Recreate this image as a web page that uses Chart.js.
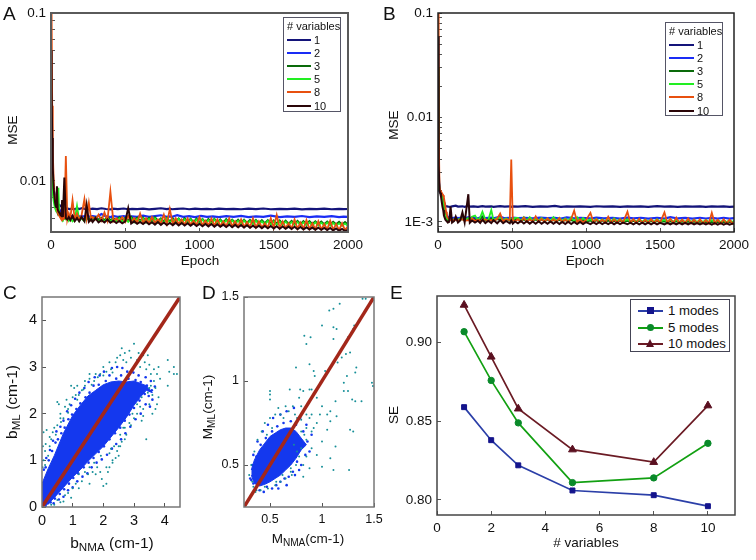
<!DOCTYPE html>
<html>
<head>
<meta charset="utf-8">
<title>MSE / SE panels</title>
<script src="https://cdn.jsdelivr.net/npm/chart.js@4/dist/chart.umd.js"></script>
<style>
  html, body { margin:0; padding:0; background:#fff; }
  #fig { position:relative; width:756px; height:560px; overflow:hidden; font-family:"Liberation Sans", Arial, sans-serif; color:#111; filter:blur(.35px); }
  #fig canvas { position:absolute; }
  .txt { position:absolute; white-space:nowrap; transform:translate(-50%,-50%); }
  .rot { transform:translate(-50%,-50%) rotate(-90deg); }
  .txt sub { font-size:.75em; vertical-align:-.3em; line-height:0; }
  .letter { position:absolute; font-size:19px; line-height:19px; }
  .lg { position:absolute; background:#fff; box-sizing:border-box; border:1.5px solid #556; }
  .lg span, .lg i { position:absolute; display:block; font-style:normal; white-space:nowrap; }
</style>
</head>
<body>
<div id="fig"></div>
<script>
/* panels A, B: training curves, values x 1e-5 (A) and x 1e-6 (B) */
const VARIABLES = ['1', '2', '3', '5', '8', '10'];
const VAR_COLORS = ['#14147a', '#1a2cf5', '#0a6a0a', '#22ee22', '#e8500f', '#2a0508'];
const VAR_WIDTHS = [2.2, 2.2, 1.8, 1.8, 1.8, 2];

const EPOCHS_A = [
  0,4,8,12,18,25,35,40,48,55,
  65,75,90,100,108,125,145,160,175,190,
  210,225,240,255,280,310,340,370,405,415,
  450,490,520,545,580,620,660,700,740,780,
  800,815,850,890,930,970,1010,1050,1090,1130,
  1180,1230,1280,1330,1380,1430,1480,1540,1590,1640,
  1690,1740,1790,1840,1890,1940,1970,2000];
const A_VAR1 = [
  3000,1400,1100,950,880,820,780,750,730,720,
  710,700,690,683,686,680,684,679,688,680,
  690,682,686,679,684,680,688,681,678,684,
  680,686,679,683,680,685,678,683,688,680,
  684,679,682,686,679,684,680,683,679,685,
  680,682,679,684,680,686,679,682,680,684,
  678,683,680,685,679,682,680,681];
const A_VAR2 = [
  3500,1500,1150,980,900,830,770,730,700,680,
  660,650,640,632,625,620,618,615,622,614,
  620,612,628,614,618,612,635,615,610,620,
  612,618,610,616,612,622,612,618,625,611,
  616,612,626,612,617,610,620,612,616,610,
  618,612,620,610,616,612,622,610,616,612,
  619,610,615,612,618,610,614,612];

const EPOCHS_A_FINE = [
  0,4,8,12,18,25,30,35,40,45,
  50,55,60,65,70,75,80,90,100,110,
  120,130,145,160,175,190,205,225,240,255,
  270,280,300,320,340,360,380,400,420,440,
  460,480,500,520,540,560,580,600,620,640,
  660,680,700,720,740,760,780,800,820,840,
  860,880,900,920,940,960,980,1000,1020,1040,
  1060,1080,1100,1120,1140,1160,1180,1200,1220,1240,
  1260,1280,1300,1320,1340,1360,1380,1400,1420,1440,
  1460,1480,1500,1520,1540,1560,1580,1600,1620,1640,
  1660,1680,1700,1720,1740,1760,1780,1800,1820,1840,
  1860,1880,1900,1920,1940,1960,1980,2000];
const A_VAR3 = [
  3800,1600,1100,900,800,740,700,680,660,650,
  640,630,625,620,615,610,605,600,610,595,
  605,590,600,585,610,590,610,585,600,590,
  610,590,610,590,605,585,612,585,600,585,
  610,582,605,582,612,580,605,580,608,578,
  605,578,610,578,600,575,605,575,600,575,
  600,572,600,572,598,570,598,570,595,570,
  595,568,596,568,592,566,594,566,590,565,
  590,564,590,564,588,562,588,562,585,562,
  586,560,584,560,583,558,582,558,580,558,
  580,556,578,556,578,555,576,555,575,554,
  575,554,573,553,572,552,570,552];
const A_VAR5 = [
  4000,1500,1000,850,760,700,680,660,720,690,
  910,640,625,610,600,590,585,600,590,610,
  580,600,575,590,710,580,600,575,640,580,
  590,575,600,575,595,575,600,572,595,575,
  600,572,595,570,600,568,595,570,600,566,
  595,566,600,565,592,566,600,565,590,564,
  595,562,590,562,590,560,588,560,590,558,
  585,558,590,556,583,556,585,555,582,555,
  580,553,582,552,578,552,580,550,575,550,
  578,549,575,548,573,548,572,547,570,546,
  570,545,568,545,566,544,568,544,565,543,
  566,542,562,542,560,541,558,540];
const A_VAR8 = [
  9000,10000,2800,1500,1000,820,760,720,680,650,
  630,620,610,600,590,680,590,600,1410,590,
  640,600,770,590,640,590,620,780,600,740,
  590,610,590,630,580,650,580,863,575,600,
  575,610,570,620,570,600,565,640,565,600,
  560,610,565,590,560,630,555,680,555,600,
  555,590,550,600,550,580,548,610,545,580,
  545,600,542,590,540,575,538,600,538,575,
  535,590,533,570,532,600,530,575,530,560,
  528,600,528,628,525,575,525,560,522,590,
  520,565,520,585,518,560,516,575,515,555,
  515,580,512,555,510,560,510,540];
const A_VAR10 = [
  6000,3500,1800,1200,900,780,720,700,930,680,
  660,650,640,625,620,770,610,1050,600,590,
  610,585,620,578,600,575,610,575,720,572,
  590,570,600,568,585,566,590,564,580,562,
  578,560,575,690,558,575,556,570,554,572,
  552,568,550,570,548,566,547,562,546,565,
  544,562,543,560,542,558,540,556,538,555,
  537,554,535,552,534,550,532,550,531,548,
  530,546,528,545,527,542,526,542,524,540,
  523,540,522,538,520,536,519,535,518,534,
  516,532,515,530,514,528,513,527,512,526,
  510,525,508,522,506,518,504,512];

const EPOCHS_B = [
  0,3,6,10,15,20,30,40,50,60,
  70,85,95,120,135,165,180,205,215,240,
  270,300,320,360,375,420,450,485,495,505,
  540,590,640,690,740,790,830,870,920,960,
  1030,1070,1120,1180,1230,1280,1320,1370,1420,1480,
  1530,1570,1620,1670,1720,1770,1810,1850,1890,1930,
  1970,2000];
const B_VAR1 = [
  20000,6000,2600,1950,1900,1850,1750,1550,1420,1405,
  1400,1395,1410,1430,1400,1410,1395,1420,1400,1410,
  1395,1415,1400,1405,1395,1415,1400,1410,1395,1405,
  1400,1415,1395,1405,1400,1420,1395,1405,1400,1410,
  1395,1412,1400,1405,1395,1410,1400,1405,1395,1415,
  1400,1405,1395,1410,1400,1405,1395,1410,1400,1405,
  1395,1400];
const B_VAR2 = [
  25000,7000,2700,2000,1950,1900,1800,1500,1250,1150,
  1100,1090,1085,1100,1085,1100,1080,1110,1085,1100,
  1080,1120,1085,1100,1080,1120,1085,1095,1080,1100,
  1085,1095,1080,1100,1085,1090,1078,1105,1082,1095,
  1078,1100,1082,1090,1076,1100,1080,1095,1076,1090,
  1074,1110,1078,1090,1075,1095,1078,1090,1074,1095,
  1075,1085];

const EPOCHS_B_FINE = [
  0,3,6,10,15,20,30,35,40,45,
  50,55,60,65,70,75,85,95,110,120,
  135,150,165,180,205,215,230,250,270,285,
  300,320,340,360,375,400,420,440,460,485,
  495,505,520,540,560,580,600,620,640,660,
  680,700,720,740,760,780,800,820,840,860,
  880,900,920,940,960,980,1000,1030,1050,1070,
  1090,1110,1130,1150,1170,1190,1210,1230,1250,1280,
  1300,1320,1340,1360,1380,1400,1420,1440,1460,1480,
  1500,1530,1550,1570,1590,1610,1630,1650,1670,1690,
  1710,1730,1750,1770,1790,1810,1830,1850,1870,1890,
  1910,1930,1950,1970,1990,2000];
const B_VAR3 = [
  30000,7500,2800,2000,1950,1880,1700,1500,1350,1220,
  1120,1080,1060,1050,1040,1040,1040,1035,1060,1070,
  1040,1060,1060,1035,1080,1040,1090,1050,1035,1060,
  1120,1035,1060,1070,1030,1060,1060,1030,1060,1030,
  1050,1030,1060,1060,1028,1050,1025,1060,1025,1050,
  1022,1050,1020,1050,1018,1040,1018,1045,1015,1040,
  1012,1040,1012,1035,1010,1040,1008,1030,1005,1035,
  1005,1030,1002,1025,1000,1020,1000,1025,998,1020,
  998,1020,996,1020,996,1015,995,1015,994,1015,
  994,1010,992,1010,992,1010,990,1008,990,1008,
  990,1005,988,1005,988,1000,986,1000,986,1000,
  985,1000,985,998,985,995];
const B_VAR5 = [
  30000,8000,2800,2000,1950,1850,1650,1500,1300,1200,
  1120,1090,1070,1060,1050,1045,1045,1040,1060,1060,
  1045,1080,1080,1040,1090,1040,1120,1150,1045,1100,
  1250,1050,1045,1300,1040,1090,1090,1040,1080,1035,
  1070,1035,1090,1090,1030,1110,1030,1110,1030,1070,
  1030,1090,1025,1080,1025,1110,1022,1090,1025,1080,
  1022,1110,1020,1110,1020,1090,1020,1060,1018,1070,
  1015,1060,1015,1090,1012,1080,1012,1060,1010,1060,
  1008,1050,1008,1060,1006,1050,1006,1050,1005,1060,
  1005,1050,1003,1060,1002,1050,1002,1045,1000,1050,
  1000,1050,1000,1045,1000,1045,998,1040,998,1040,
  996,1040,995,1035,995,1030];
const B_VAR8 = [
  85000,100000,8000,2200,2000,1950,1850,1800,1700,1550,
  1400,1250,1150,1100,1080,1060,1040,1020,1060,1040,
  1030,1050,1060,1025,1040,1020,1080,1020,1050,1020,
  1030,1060,1015,1040,1015,1070,1200,1010,1060,1040,
  3950,1040,1010,1060,1005,1100,1005,1060,1005,1130,
  1005,1070,1000,1080,1000,1060,1000,1090,995,1060,
  995,1070,1280,995,1060,990,1040,1220,990,1060,
  990,1050,988,1120,985,1060,985,1060,985,1250,
  983,1060,980,1070,980,1050,980,1060,978,1050,
  978,1230,975,1070,975,1100,975,1050,972,1080,
  972,1050,970,1060,970,1040,968,1220,968,1050,
  965,1060,965,1050,965,1000];
const B_VAR10 = [
  60000,12000,3500,2000,1900,1750,1400,1300,1150,1100,
  1050,1030,1010,1005,990,1000,1400,985,1020,1120,
  985,1030,1230,990,1840,980,1030,985,1025,975,
  1050,975,1025,975,1040,970,1040,970,1020,968,
  1030,965,1010,968,1020,965,1015,962,1010,960,
  1015,960,1005,958,1010,958,1005,956,1000,955,
  1005,955,1000,954,1000,953,995,953,995,952,
  995,952,990,951,990,950,990,950,985,949,
  985,949,985,948,985,948,985,947,985,947,
  980,947,980,946,980,946,980,945,978,945,
  978,945,975,944,975,944,975,943,975,943,
  972,942,970,942,965,950];

const A_YTICKS = [0.1, 0.09, 0.08, 0.07, 0.06, 0.05, 0.04, 0.03, 0.02, 0.01, 0.009, 0.008, 0.007, 0.006, 0.005];
const B_YTICKS = [0.1, 0.09, 0.08, 0.07, 0.06, 0.05, 0.04, 0.03, 0.02, 0.01, 0.009, 0.008, 0.007, 0.006, 0.005, 0.004, 0.003, 0.002, 0.001, 0.0009];
const EPOCH_TICKS = [0, 500, 1000, 1500, 2000];

/* panel C: dense cloud outline, its ragged edge, and the loose points around it */
const C_CLOUD_X   = [0, 0.2, 0.4, 0.7, 1, 1.25, 1.5, 1.75, 2, 2.25, 2.5, 2.75, 3, 3.2, 3.4, 3.6];
const C_CLOUD_TOP = [0.5, 0.82, 1.1, 1.58, 1.96, 2.18, 2.38, 2.5, 2.62, 2.68, 2.7, 2.68, 2.7, 2.65, 2.6, 2.45];
const C_CLOUD_LOW = [0, 0.07, 0.2, 0.42, 0.64, 0.8, 0.98, 1.14, 1.3, 1.5, 1.7, 1.92, 2.18, 2.35, 2.5, 2.45];
const C_EDGE = [
  [.06,.8],[.12,.85],[.14,1.05],[.22,1],[.26,1.22],[.33,1.2],[.36,1.42],[.44,1.38],[.47,1.62],[.52,1.45],
  [.6,1.72],[.63,1.58],[.7,1.85],[.74,1.7],[.82,2.05],[.86,1.88],[.95,2.18],[.98,1.98],[1.08,2.32],[1.12,2.1],
  [1.22,2.45],[1.25,2.22],[1.38,2.55],[1.42,2.35],[1.52,2.68],[1.55,2.45],[1.68,2.6],[1.72,2.78],[1.85,2.62],[1.88,2.82],
  [2.02,2.9],[2.08,2.7],[2.2,2.82],[2.28,2.98],[2.42,2.75],[2.45,3],[2.58,2.82],[2.62,2.98],[2.78,2.9],[2.82,2.75],
  [2.98,2.88],[3.05,2.72],[3.15,2.82],[3.22,2.68],[3.38,2.78],[3.42,2.6],[3.55,2.7],[3.58,2.5],[3.68,2.58],[3.6,2.3],
  [3.48,2.38],[3.52,2.15],
  [.12,.02],[.2,.08],[.28,.1],[.38,.08],[.42,.18],[.55,.16],[.58,.28],[.7,.22],[.72,.38],[.85,.36],
  [.88,.5],[1,.42],[1.02,.62],[1.15,.55],[1.18,.72],[1.32,.65],[1.36,.85],[1.48,.72],[1.52,.95],[1.62,.85],
  [1.68,1.05],[1.78,.95],[1.85,1.18],[1.95,1.02],[2.02,1.3],[2.12,1.12],[2.2,1.45],[2.28,1.25],[2.38,1.58],[2.42,1.35],
  [2.55,1.7],[2.58,1.45],[2.7,1.85],[2.72,1.58],[2.85,1.98],[2.88,1.72],[3,2.12],[3.05,1.88],[3.18,2.28],[3.22,2],
  [3.35,2.42],[3.38,2.2]];
const C_DOTS = [
  [3,3.5],[2.6,3.4],[2.85,3.35],[2.55,3.25],[2.65,3.15],[2.4,3.1],[2.75,3.1],[3.15,3.3],[3.3,3.25],[3.45,3.25],
  [3.35,3.1],[3.5,3.05],[3.2,3],[3.65,2.95],[3.8,3],[4.1,3.15],[4.3,3],[4.15,2.9],[4.3,2.85],[4.4,2.85],
  [4.1,2.6],[3.65,2.7],[3.7,2.55],[3.6,2.4],[3.5,2.2],[3.7,2.1],[3.6,2],[3.4,1.45],[3.3,1.95],[3.2,2.15],
  [3,1.9],[2.85,1.8],[.5,2.25],[.55,2.2],[.95,2.6],[1.05,2.55],[1.55,2.85],[1.55,2.75],[1.3,2.5],[.8,2.3],
  [.6,2],[.15,1.65],[.05,1.6],[.3,1.45],[.45,1.55],[.25,1.3],[.1,1.2],[.05,1],[.2,1.1],[.7,1.9],
  [.9,2.2],[1.2,2.4],[1.4,2.6],[1.7,2.7],[1.9,2.85],[2.1,2.9],[2.25,2.95],[.35,1.6],[.5,1.75],[.75,2.15],
  [1,2.35],[1.1,2.4],[.62,1.82],[.85,2.02],[1.15,2.3],[1.35,2.52],[1.62,2.62],[1.82,2.78],[2,2.82],[2.3,2.88],
  [2.1,.5],[2,.45],[1.65,.75],[1.8,.85],[1.5,.7],[1.3,.55],[1.1,.5],[.85,.3],[.6,.1],[.4,.05],
  [.3,.05],[2.3,1],[2.45,1.2],[2.5,1.1],[2.25,1.25],[2.1,.85],[2.6,1.4],[2.75,1.55],[2.9,1.75],[1.9,.75],
  [1.7,.95],[1.4,.75],[1.2,.7],[1,.4],[.75,.25],[.5,.15],[2.35,1.3],[2.55,1.55],[2.65,1.7],[2.95,2],
  [1.55,.85],[1.92,1.1],[2.2,1.15],[2.7,1.7],[3.1,2.2],[3.25,2.35],[3.45,2.45],[3.55,2.6],
  [.4,1.7],[.6,1.9],[.85,2.1],[1.15,2.6],[1.4,2.7],[1.75,2.85],[2,3],[2.2,3.1],[2.45,3.2],[.25,1.5],
  [.12,1.35],[.02,.85],[.03,1.3],[.1,.9],[2.7,3.3],[2.9,3.2],[3.1,3.15],[3.4,2.95],[3.55,2.85],[3.85,2.75],
  [3.75,2.85],[3.5,2.55],[3.8,2.35],[3.75,2.2],[3.3,2.1],[3.1,2],[3.25,1.85],[2.7,1.45],[2.5,1.3],[2.4,1.05],
  [2.2,.85],[1.95,.6],[1.75,.7],[1.55,.5],[1.2,.4],[.95,.2],[.7,.12],[2.15,.75],[2.3,.95],[2.55,1.3]];
const C_DIAG = [0, 4.5];
const C_TICKS = [0, 1, 2, 3, 4];

/* panel D */
const D_CLOUD_X   = [0.32, 0.35, 0.4, 0.45, 0.5, 0.55, 0.6, 0.65, 0.7, 0.75, 0.8, 0.85];
const D_CLOUD_TOP = [0.47, 0.53, 0.59, 0.63, 0.67, 0.69, 0.71, 0.72, 0.72, 0.7, 0.66, 0.62];
const D_CLOUD_LOW = [0.44, 0.39, 0.375, 0.385, 0.4, 0.42, 0.44, 0.47, 0.5, 0.54, 0.59, 0.62];
const D_EDGE = [
  [.31,.42],[.33,.5],[.34,.56],[.37,.55],[.38,.64],[.41,.62],[.43,.7],[.46,.66],[.48,.74],[.52,.7],
  [.53,.78],[.57,.73],[.6,.8],[.63,.75],[.66,.82],[.7,.76],[.73,.84],[.75,.74],[.79,.78],[.82,.7],
  [.85,.74],[.86,.64],[.9,.68],[.88,.58],[.84,.56],[.8,.5],[.76,.52],[.72,.46],[.68,.43],[.64,.42],
  [.6,.4],[.56,.38],[.52,.36],[.47,.37],[.44,.34],[.4,.35],[.36,.36],[.34,.39],[.32,.41],[.66,.38],
  [.74,.44],[.78,.47],[.58,.36]];
const D_DOTS = [
  [1.39,1.49],[1.42,1.49],[1.17,1.46],[1.11,1.43],[1.07,1.42],[1,1.33],[1.11,1.32],[1.14,1.31],[1.31,1.33],[1.29,1.29],
  [1.3,1.31],[.83,1.27],[.89,1.26],[.85,1.22],[1.25,1.26],[1.11,1.25],[1.23,1.16],[1.27,1.17],[1.19,1.14],[.75,1.08],
  [.88,1.1],[.92,1.06],[.93,1.03],[1.03,1.06],[1.15,1.11],[1.33,1.08],[1.32,1.05],[1.24,1.03],[1.48,.99],[1.49,.97],
  [1.21,.99],[1.25,.94],[1.21,.94],[.5,.94],[.5,.92],[.5,.89],[.69,.95],[.79,.95],[.82,.94],[.88,.95],
  [1.29,.89],[1.32,.88],[1.38,.88],[1.13,.88],[1.08,.82],[1.14,.79],[1.27,.71],[1.3,.7],[1.08,.76],[1.05,.71],
  [1.13,.61],[1.08,.54],[1.11,.47],[1.26,.47],[1,.49],[.95,.56],[1,.64],[.82,.43],[.88,.48],[.71,.44],
  [.78,.9],[.72,.85],[.65,.85],[.8,.85],[.85,.8],[.9,.8],[.95,.75],[.9,.7],[.85,.72],[.8,.7],
  [.85,.65],[.9,.6],[.8,.6],[.78,.55],[.85,.55],[.75,.5],[.7,.48],[.65,.42],[.6,.4],[.55,.38],
  [.45,.37],[.37,.35],[.33,.4],[.3,.44],[.32,.5],[.35,.58],[.38,.65],[.42,.7],[.45,.75],[.5,.78],
  [.55,.8],[.6,.8],[.68,.82],[.74,.8],[.58,.84],[.63,.78],[.52,.72],[.47,.68],[.9,.95],[.95,.9],
  [1,.85],[1.05,.8],[.98,.8],[.88,.78],[.92,.72],[.76,.58],[.82,.5],[.7,.46],[.62,.44],[.56,.4],
  [.48,.36],[.41,.35],[.36,.34],[.34,.37],[.76,.78],[.8,.77],[.83,.68],[.73,.62]];
const D_DIAG = [0.25, 1.5];
const D_XTICKS = [0.5, 1, 1.5];
const D_YTICKS = [0.5, 1, 1.5];

/* panel E */
const E_VARIABLES = [1, 2, 3, 5, 8, 10];
const E_MODES1  = [0.859, 0.838, 0.822, 0.806, 0.803, 0.796];
const E_MODES5  = [0.907, 0.876, 0.849, 0.811, 0.814, 0.836];
const E_MODES10 = [0.924, 0.891, 0.858, 0.832, 0.824, 0.860];
const E_XTICKS = [0, 2, 4, 6, 8, 10];
const E_YTICKS = [0.80, 0.85, 0.90];

const FONT = '"Liberation Sans", Arial, sans-serif';
const PAD = { l:50, r:28, t:20, b:40 };
const fig = document.getElementById('fig');

// draws the box round the plot area, all four sides
const framePlugin = {
  id: 'frame',
  afterDatasetsDraw(chart, args, opts) {
    const a = chart.chartArea, c = chart.ctx;
    c.save();
    c.strokeStyle = opts.color;
    c.lineWidth = opts.width;
    c.strokeRect(a.left, a.top, a.right - a.left, a.bottom - a.top);
    c.restore();
  }
};

function axis(range, ticks, label, fontSize, fit, extra) {
  return Object.assign({
    type: 'linear',
    min: range[0],
    max: range[1],
    afterBuildTicks: s => { s.ticks = ticks.map(v => ({ value: v })); },
    afterFit: fit,
    border: { display: false },
    grid: { drawOnChartArea: false, tickLength: -4, tickColor: '#555', tickWidth: 1 },
    ticks: {
      autoSkip: false, maxRotation: 0, padding: 9, color: '#111',
      font: { family: FONT, size: fontSize },
      callback: label,
    },
  }, extra || {});
}

function addPanel(box, frame, xAxis, yAxis, datasets) {
  const w = box.r - box.l + PAD.l + PAD.r;
  const h = box.b - box.t + PAD.t + PAD.b;
  const cv = document.createElement('canvas');
  cv.width = w; cv.height = h;
  cv.style.left = (box.l - PAD.l) + 'px';
  cv.style.top = (box.t - PAD.t) + 'px';
  cv.style.width = w + 'px';
  cv.style.height = h + 'px';
  fig.appendChild(cv);
  new Chart(cv, {
    type: 'line',
    data: { datasets },
    plugins: [framePlugin],
    options: {
      responsive: false,
      animation: false,
      devicePixelRatio: 1,
      layout: { padding: { top: PAD.t, right: PAD.r, left: 0, bottom: 0 } },
      plugins: { legend: { display: false }, tooltip: { enabled: false }, frame },
      scales: { x: xAxis, y: yAxis },
    },
  });
}

function text(html, x, y, size, rot) {
  const d = document.createElement('div');
  d.className = rot ? 'txt rot' : 'txt';
  d.style.left = x + 'px';
  d.style.top = y + 'px';
  d.style.fontSize = size + 'px';
  d.innerHTML = html;
  fig.appendChild(d);
}

function letter(s, x, y) {
  const d = document.createElement('div');
  d.className = 'letter';
  d.style.left = x + 'px';
  d.style.top = y + 'px';
  d.textContent = s;
  fig.appendChild(d);
}

function varLegend(x, y, w, h, lineW) {
  const d = document.createElement('div');
  d.className = 'lg';
  d.style.cssText = `left:${x}px;top:${y}px;width:${w}px;height:${h}px;font-size:11px;line-height:13px;`;
  let html = `<span style="left:3px;top:2px;">#&nbsp;variables</span>`;
  VARIABLES.forEach((v, i) => {
    const top = 15.5 + i * 13.2;
    html += `<i style="left:3px;top:${top + 5}px;width:${lineW}px;height:2px;background:${VAR_COLORS[i]}"></i>`;
    html += `<span style="left:${lineW + 6}px;top:${top}px;">${v}</span>`;
  });
  d.innerHTML = html;
  fig.appendChild(d);
}

// series 1 and 2 sit on the coarse grid, the noisier ones on the fine grid
function curveSets(grids, rows, unit) {
  return rows.map((vals, i) => ({
    label: VARIABLES[i],
    data: grids[i].map((e, j) => ({ x: e, y: vals[j] * unit })),
    borderColor: VAR_COLORS[i],
    borderWidth: VAR_WIDTHS[i],
    pointRadius: 0,
    tension: 0,
    order: rows.length - i,
  }));
}

function cloudSets(cloudX, top, low, edge, dots, diag) {
  return [
    { data: cloudX.map((x, i) => ({ x, y: top[i] })), borderColor: '#1438ee', backgroundColor: '#1438ee',
      borderWidth: 1, pointRadius: 0, fill: '+1', order: 4 },
    { data: cloudX.map((x, i) => ({ x, y: low[i] })), borderColor: '#1438ee',
      borderWidth: 1, pointRadius: 0, fill: false, order: 4 },
    { data: edge.map(p => ({ x: p[0], y: p[1] })), showLine: false, pointRadius: 1.3,
      pointBackgroundColor: '#1438ee', pointBorderWidth: 0, order: 3 },
    { data: dots.map(p => ({ x: p[0], y: p[1] })), showLine: false, pointRadius: 1,
      pointBackgroundColor: '#168f98', pointBorderWidth: 0, order: 2 },
    { data: diag.map(v => ({ x: v, y: v })), borderColor: '#a3271a', borderWidth: 3.5, pointRadius: 0, order: 1 },
  ];
}

function modeSet(label, vals, line, marker, style, radius) {
  return {
    label,
    data: E_VARIABLES.map((x, i) => ({ x, y: vals[i] })),
    borderColor: line,
    borderWidth: 1.7,
    tension: 0,
    pointStyle: style,
    pointRadius: radius,
    pointBackgroundColor: marker,
    pointBorderColor: marker,
    pointBorderWidth: 1,
  };
}

const fitW = s => { s.width = PAD.l; };
const fitH = s => { s.height = PAD.b; };
const mseLabel = shown => v => { const k = shown.find(t => Math.abs(t[0] - v) < 1e-9); return k ? k[1] : ''; };

// A
addPanel({ l:51, t:13, r:348, b:232 }, { color:'#5a5a5a', width:2 },
  axis([0, 2000], EPOCH_TICKS, v => v, 13.5, fitH),
  axis([0.00497, 0.1], A_YTICKS, mseLabel([[0.1, '0.1'], [0.01, '0.01']]), 13.5, fitW, { type:'logarithmic' }),
  curveSets([EPOCHS_A, EPOCHS_A, EPOCHS_A_FINE, EPOCHS_A_FINE, EPOCHS_A_FINE, EPOCHS_A_FINE],
    [A_VAR1, A_VAR2, A_VAR3, A_VAR5, A_VAR8, A_VAR10], 1e-5));
text('MSE', 12, 130, 13.5, true);
text('Epoch', 200, 260, 13.5);
varLegend(283, 17, 58, 95, 24);
letter('A', 3, 4);

// B
addPanel({ l:437.5, t:13, r:734, b:232 }, { color:'#222', width:1.5 },
  axis([0, 2000], EPOCH_TICKS, v => v, 13.5, fitH),
  axis([0.0008, 0.1], B_YTICKS, mseLabel([[0.1, '0.1'], [0.01, '0.01'], [0.001, '1E-3']]), 13.5, fitW, { type:'logarithmic' }),
  curveSets([EPOCHS_B, EPOCHS_B, EPOCHS_B_FINE, EPOCHS_B_FINE, EPOCHS_B_FINE, EPOCHS_B_FINE],
    [B_VAR1, B_VAR2, B_VAR3, B_VAR5, B_VAR8, B_VAR10], 1e-6));
text('MSE', 393, 125, 13.5, true);
text('Epoch', 585, 260, 13.5);
varLegend(665, 22, 58, 94, 25);
letter('B', 383, 4);

// C
addPanel({ l:42, t:297, r:180, b:507 }, { color:'#777', width:1.5 },
  axis([0, 4.5], C_TICKS, v => v, 14.5, fitH),
  axis([0, 4.5], C_TICKS, v => v, 14.5, fitW),
  cloudSets(C_CLOUD_X, C_CLOUD_TOP, C_CLOUD_LOW, C_EDGE, C_DOTS, C_DIAG));
text('b<sub>ML</sub> (cm-1)', 12, 402, 15.5, true);
text('b<sub>NMA</sub> (cm-1)', 112, 543, 15.5);
letter('C', 3, 283);

// D
addPanel({ l:244, t:297, r:374, b:507 }, { color:'#777', width:1.5 },
  axis([0.25, 1.5], D_XTICKS, v => v, 12.5, fitH),
  axis([0.25, 1.5], D_YTICKS, v => v, 12.5, fitW),
  cloudSets(D_CLOUD_X, D_CLOUD_TOP, D_CLOUD_LOW, D_EDGE, D_DOTS, D_DIAG));
text('M<sub>ML</sub>(cm-1)', 207, 407, 13.5, true);
text('M<sub>NMA</sub>(cm-1)', 308, 538, 13.5);
letter('D', 202, 283);

// E
addPanel({ l:437, t:296, r:735, b:515 }, { color:'#444', width:1.5 },
  axis([0, 11], E_XTICKS, v => v, 13.5, fitH),
  axis([0.7904, 0.9297], E_YTICKS, v => v.toFixed(2), 13.5, fitW),
  [
    modeSet('1 modes', E_MODES1, '#2b3fa8', '#14148c', 'rect', 3.5),
    modeSet('5 modes', E_MODES5, '#12a012', '#0a8a2a', 'circle', 3.2),
    modeSet('10 modes', E_MODES10, '#6b1b24', '#5a1020', 'triangle', 4.5),
  ]);
text('SE', 393, 415, 13.5, true);
text('# variables', 586, 542, 13.5);
letter('E', 390, 283);

// E legend
const eLegend = document.createElement('div');
eLegend.className = 'lg';
eLegend.style.cssText = 'left:630px;top:299px;width:100px;height:53px;font-size:13.2px;line-height:15px;border-color:#445;';
eLegend.innerHTML = `
  <i style="left:7px;top:10px;width:25px;height:2px;background:#2b3fa8"></i>
  <i style="left:16px;top:7px;width:7px;height:7px;background:#14148c"></i>
  <span style="left:37px;top:3px;">1 modes</span>
  <i style="left:7px;top:27px;width:25px;height:2px;background:#12a012"></i>
  <i style="left:16px;top:24px;width:7px;height:7px;border-radius:50%;background:#0a8a2a"></i>
  <span style="left:37px;top:20px;">5 modes</span>
  <i style="left:7px;top:43px;width:25px;height:2px;background:#6b1b24"></i>
  <i style="left:15px;top:39px;width:0;height:0;border-left:4.5px solid transparent;border-right:4.5px solid transparent;border-bottom:8px solid #5a1020"></i>
  <span style="left:37px;top:36px;">10 modes</span>`;
fig.appendChild(eLegend);
</script>
</body>
</html>
